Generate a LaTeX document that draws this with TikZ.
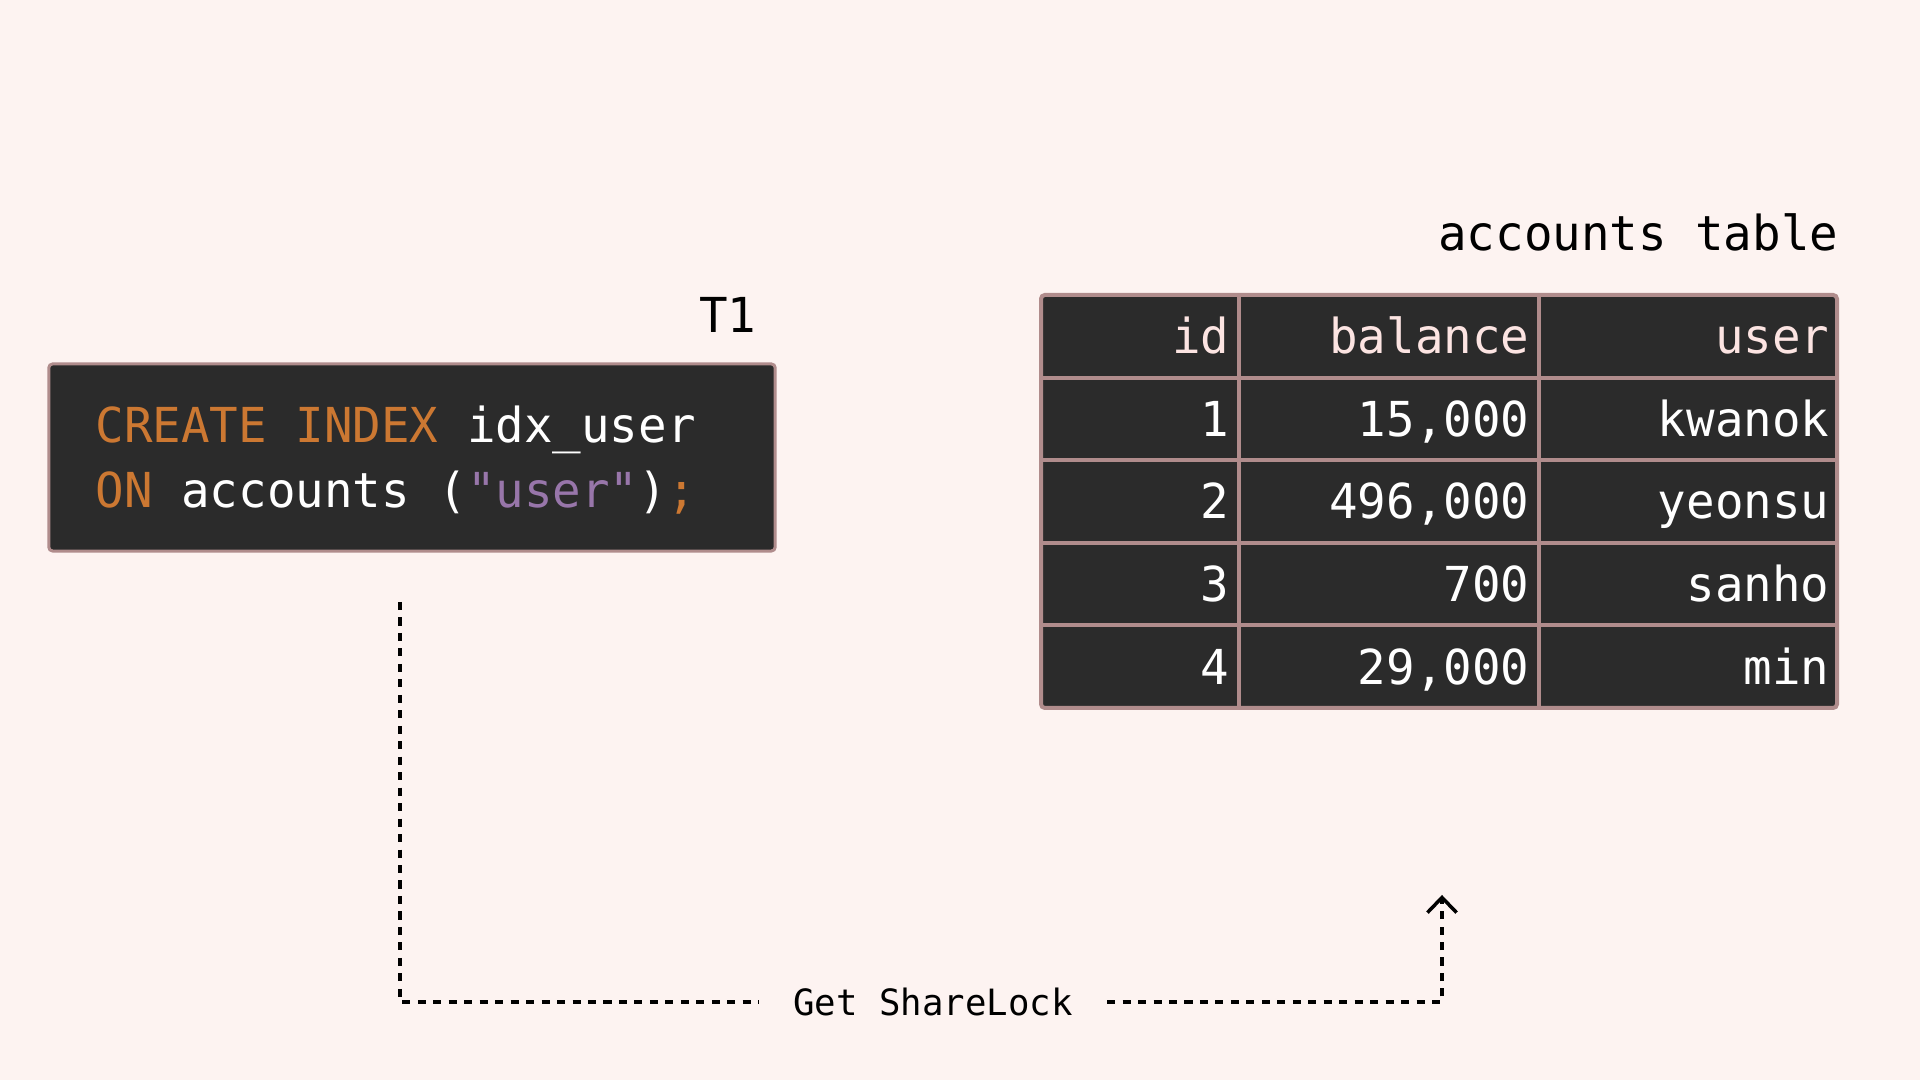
\documentclass[tikz,border=0pt]{standalone}
\usepackage{fontspec}
\setmonofont[FakeStretch=0.985]{DejaVu Sans Mono}
\usetikzlibrary{positioning, arrows.meta}
\definecolor{paper}{HTML}{FDF3F1}
\definecolor{codebg}{HTML}{2B2B2B}
\definecolor{frame}{HTML}{B08C8C}
\definecolor{keyword}{HTML}{CC7832}
\definecolor{strval}{HTML}{9876AA}
\definecolor{headtext}{HTML}{FCE4E2}
\tikzset{
x=0.01cm, y=0.01cm, % one unit is one pixel of the slide
every node/.style={font=\ttfamily\fontsize{13.7pt}{18.2pt}\selectfont}, % same mono font everywhere
codebox/.style={draw=frame, fill=codebg, line width=0.85pt, rounded corners=1.1pt, minimum width=7.26cm, minimum height=1.87cm},
tableline/.style={draw=frame, line width=1.14pt},
cell/.style={anchor=base east, inner sep=0pt, text=white}, % right aligned cell text
headcell/.style={cell, text=headtext},
small/.style={font=\ttfamily\fontsize{10.3pt}{12pt}\selectfont},
lockline/.style={line width=1pt, dash pattern=on 2.3pt off 2.1pt},
}
\begin{document}
\begin{tikzpicture}
        \fill[paper] (0,0) rectangle (1920,1080);
        \useasboundingbox (0,0) rectangle (1920,1080);

        % transaction
        \node[anchor=base east, inner sep=0pt] (t1) at (757,747) {T1};
        \node[codebox] (code) at (412,622.5) {};
        \node[anchor=base west, inner sep=0pt, text=white] (sql1) at (95,637) {\textcolor{keyword}{CREATE INDEX} idx\_user};
        \node[anchor=base west, inner sep=0pt, text=white] (sql2) at ([yshift=-0.64cm]sql1.base west) {\textcolor{keyword}{ON} accounts (\textcolor{strval}{"user"})\textcolor{keyword}{;}};

        % table
        \node[anchor=base east, inner sep=0pt] (title) at (1839,829) {accounts table};
        \draw[tableline, fill=codebg, rounded corners=1.1pt] (1041,372) rectangle (1837,785);
        \foreach \y in {702.4,619.8,537.2,454.6}
            \draw[tableline] (1041,\y) -- (1837,\y);
        \foreach \x in {1239,1539}
            \draw[tableline] (\x,372) -- (\x,785);
        \node[headcell] (hid) at (1230,726.2) {id};
        \node[headcell] (hbalance) at (1530,726.2) {balance};
        \node[headcell] (huser) at (1830,726.2) {user};
        \foreach \i/\b/\u [count=\r] in {1/{15,000}/kwanok, 2/{496,000}/yeonsu, 3/700/sanho, 4/{29,000}/min} {
            \pgfmathsetmacro\yb{726.2-82.6*\r}
            \node[cell] (id\r) at (1230,\yb) {\i};
            \node[cell] (balance\r) at (1530,\yb) {\b};
            \node[cell] (user\r) at (1830,\yb) {\u};
        }

        % lock request
        \coordinate (start) at (400,478);
        \coordinate (goal) at (1442,185);
        \node[small, inner xsep=9.6pt] (lock) at (933,78) {Get ShareLock};
        \draw[lockline] (start) |- (lock.west);
        \draw[lockline, -{Straight Barb[length=4.3pt, width=8.3pt]}] (lock.east) -| (goal);
    \end{tikzpicture}
\end{document}
